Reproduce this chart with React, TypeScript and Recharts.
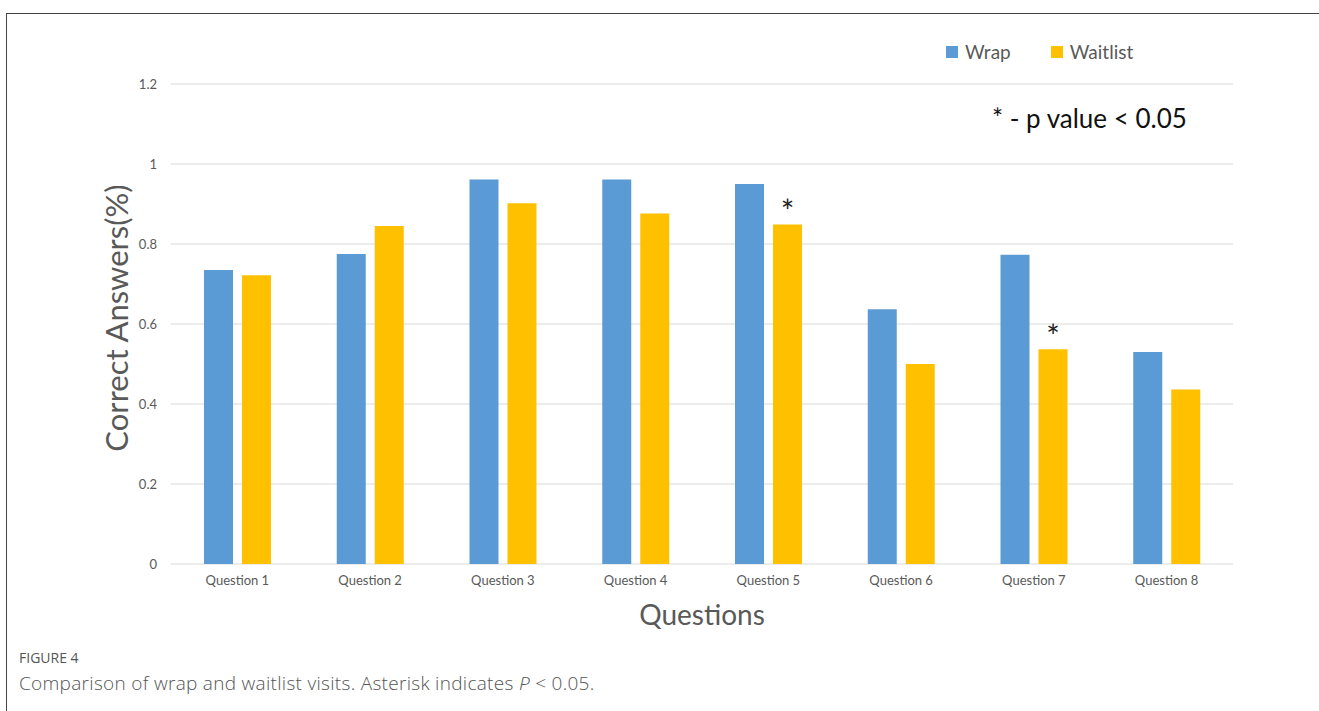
import { BarChart, Bar, XAxis, YAxis, CartesianGrid, LabelList } from 'recharts';

const questions = [
  'Question 1',
  'Question 2',
  'Question 3',
  'Question 4',
  'Question 5',
  'Question 6',
  'Question 7',
  'Question 8',
];
const wrapScores = [0.735, 0.775, 0.961, 0.961, 0.95, 0.637, 0.773, 0.53];
const waitlistScores = [0.722, 0.845, 0.902, 0.876, 0.849, 0.5, 0.537, 0.436];
const waitlistSignificant = [false, false, false, false, true, false, true, false];
const yTicks = [0, 0.2, 0.4, 0.6, 0.8, 1, 1.2];

const WRAP_COLOR = '#5B9BD5';
const WAITLIST_COLOR = '#FFC000';
const TEXT_GRAY = '#595959';
const FONT = 'Lato, "Open Sans", sans-serif';

const data = questions.map((q, i) => ({
  question: q,
  wrap: wrapScores[i],
  waitlist: waitlistScores[i],
}));

const legendItems = [
  { name: 'Wrap', color: WRAP_COLOR },
  { name: 'Waitlist', color: WAITLIST_COLOR },
];

const renderStar = (props: any) => {
  const { x, y, width, index } = props;
  if (!waitlistSignificant[index]) return null;
  return (
    <text
      x={Number(x) + Number(width) / 2}
      y={Number(y) - 1}
      textAnchor="middle"
      fontSize={32}
      fontFamily={FONT}
      fill="#222"
    >
      *
    </text>
  );
};

export default function App() {
  return (
    <div
      style={{
        position: 'absolute',
        left: 0,
        top: 0,
        width: 1319,
        height: 711,
        background: '#fff',
        overflow: 'hidden',
        fontFamily: FONT,
      }}
    >
      {/* figure frame: only top and left edges are visible */}
      <div
        style={{
          position: 'absolute',
          left: 6,
          top: 13,
          width: 1319,
          height: 711,
          borderTop: '1.5px solid #444',
          borderLeft: '1.5px solid #444',
        }}
      />

      <div style={{ position: 'absolute', left: 0, top: 0 }}>
        <BarChart
          width={1319}
          height={711}
          data={data}
          margin={{ top: 84, right: 86, bottom: 117, left: 111 }}
          barSize={29}
          barGap={9}
        >
          <CartesianGrid horizontal vertical={false} stroke="#d9d9d9" strokeWidth={1.2} />
          <XAxis
            dataKey="question"
            height={30}
            axisLine={false}
            tickLine={false}
            tickMargin={6}
            interval={0}
            tick={{ fontSize: 13, fill: TEXT_GRAY, fontFamily: FONT }}
          />
          <YAxis
            width={60}
            domain={[0, 1.2]}
            ticks={yTicks}
            axisLine={false}
            tickLine={false}
            tickMargin={8}
            tick={{ fontSize: 13, fill: TEXT_GRAY, fontFamily: FONT }}
          />
          <Bar dataKey="wrap" name="Wrap" fill={WRAP_COLOR} isAnimationActive={false} />
          <Bar dataKey="waitlist" name="Waitlist" fill={WAITLIST_COLOR} isAnimationActive={false}>
            <LabelList dataKey="waitlist" content={renderStar} />
          </Bar>
        </BarChart>
      </div>

      {/* legend */}
      <div
        style={{
          position: 'absolute',
          left: 946,
          top: 40,
          display: 'flex',
          alignItems: 'center',
          fontSize: 19,
          color: TEXT_GRAY,
        }}
      >
        {legendItems.map((item) => (
          <div key={item.name} style={{ display: 'flex', alignItems: 'center', marginRight: 40 }}>
            <span
              style={{ width: 12, height: 12, background: item.color, display: 'inline-block', marginRight: 7 }}
            />
            <span>{item.name}</span>
          </div>
        ))}
      </div>

      {/* significance note */}
      <div
        style={{
          position: 'absolute',
          left: 992,
          top: 102,
          fontSize: 26,
          color: '#111',
          whiteSpace: 'nowrap',
        }}
      >
        * - p value &lt; 0.05
      </div>

      {/* axis titles */}
      <div
        style={{
          position: 'absolute',
          left: 702,
          top: 614,
          transform: 'translate(-50%, -50%)',
          fontSize: 28,
          color: TEXT_GRAY,
          whiteSpace: 'nowrap',
        }}
      >
        Questions
      </div>
      <div
        style={{
          position: 'absolute',
          left: 116,
          top: 318,
          transform: 'translate(-50%, -50%) rotate(-90deg)',
          fontSize: 31,
          color: TEXT_GRAY,
          whiteSpace: 'nowrap',
        }}
      >
        Correct Answers(%)
      </div>

      {/* caption */}
      <div
        style={{
          position: 'absolute',
          left: 19,
          top: 648,
          fontSize: 14,
          color: '#555',
          fontFamily: '"Open Sans", sans-serif',
        }}
      >
        FIGURE 4
      </div>
      <div
        style={{
          position: 'absolute',
          left: 19,
          top: 670,
          fontSize: 19,
          color: '#555',
          fontFamily: '"Open Sans", sans-serif',
          fontWeight: 300,
          letterSpacing: 0.3,
          whiteSpace: 'nowrap',
        }}
      >
        Comparison of wrap and waitlist visits. Asterisk indicates <i>P</i> &lt; 0.05.
      </div>
    </div>
  );
}
